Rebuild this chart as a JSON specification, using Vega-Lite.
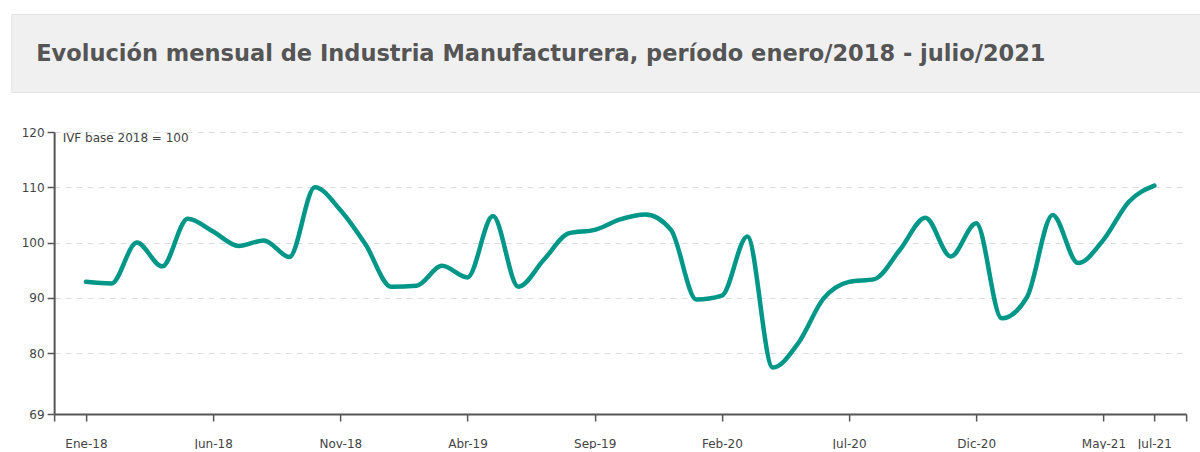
{
  "$schema": "https://vega.github.io/schema/vega-lite/v6.json",
  "background": "white",
  "padding": {"left": 10, "top": 13, "right": 0, "bottom": 0},
  "spacing": 33,
  "center": true,
  "config": {"font": "DejaVu Sans", "view": {"stroke": null}},
  "vconcat": [
    {
      "width": 1218,
      "height": 78,
      "view": {"fill": "#f0f0f0", "stroke": "#e3e3e3"},
      "title": {
        "text": "Evolución mensual de Industria Manufacturera, período enero/2018 - julio/2021",
        "anchor": "start",
        "frame": "group",
        "orient": "top",
        "offset": -69,
        "dx": 25,
        "baseline": "alphabetic",
        "font": "DejaVu Sans",
        "fontSize": 22.5,
        "fontWeight": "bold",
        "color": "#555555"
      },
      "data": {"values": []},
      "mark": "rect",
      "encoding": {}
    },
    {
      "width": 1132,
      "height": 282,
      "data": {
        "values": [
          {"i": 0, "mes": "Ene-18", "ivf": 92.9},
          {"i": 1, "mes": "Feb-18", "ivf": 92.6},
          {"i": 2, "mes": "Mar-18", "ivf": 100.0},
          {"i": 3, "mes": "Abr-18", "ivf": 95.7},
          {"i": 4, "mes": "May-18", "ivf": 104.3},
          {"i": 5, "mes": "Jun-18", "ivf": 102.0},
          {"i": 6, "mes": "Jul-18", "ivf": 99.4},
          {"i": 7, "mes": "Ago-18", "ivf": 100.4},
          {"i": 8, "mes": "Sep-18", "ivf": 97.4},
          {"i": 9, "mes": "Oct-18", "ivf": 110.0},
          {"i": 10, "mes": "Nov-18", "ivf": 105.9},
          {"i": 11, "mes": "Dic-18", "ivf": 99.6},
          {"i": 12, "mes": "Ene-19", "ivf": 92.0},
          {"i": 13, "mes": "Feb-19", "ivf": 92.2},
          {"i": 14, "mes": "Mar-19", "ivf": 95.8},
          {"i": 15, "mes": "Abr-19", "ivf": 93.7},
          {"i": 16, "mes": "May-19", "ivf": 104.8},
          {"i": 17, "mes": "Jun-19", "ivf": 92.0},
          {"i": 18, "mes": "Jul-19", "ivf": 96.9},
          {"i": 19, "mes": "Ago-19", "ivf": 101.7},
          {"i": 20, "mes": "Sep-19", "ivf": 102.3},
          {"i": 21, "mes": "Oct-19", "ivf": 104.2},
          {"i": 22, "mes": "Nov-19", "ivf": 105.1},
          {"i": 23, "mes": "Dic-19", "ivf": 102.3},
          {"i": 24, "mes": "Ene-20", "ivf": 89.7},
          {"i": 25, "mes": "Feb-20", "ivf": 90.4},
          {"i": 26, "mes": "Mar-20", "ivf": 101.1},
          {"i": 27, "mes": "Abr-20", "ivf": 77.4},
          {"i": 28, "mes": "May-20", "ivf": 81.8},
          {"i": 29, "mes": "Jun-20", "ivf": 89.9},
          {"i": 30, "mes": "Jul-20", "ivf": 92.9},
          {"i": 31, "mes": "Ago-20", "ivf": 93.4},
          {"i": 32, "mes": "Sep-20", "ivf": 98.7},
          {"i": 33, "mes": "Oct-20", "ivf": 104.5},
          {"i": 34, "mes": "Nov-20", "ivf": 97.5},
          {"i": 35, "mes": "Dic-20", "ivf": 103.5},
          {"i": 36, "mes": "Ene-21", "ivf": 86.3},
          {"i": 37, "mes": "Feb-21", "ivf": 90.2},
          {"i": 38, "mes": "Mar-21", "ivf": 105.0},
          {"i": 39, "mes": "Abr-21", "ivf": 96.3},
          {"i": 40, "mes": "May-21", "ivf": 100.5},
          {"i": 41, "mes": "Jun-21", "ivf": 107.4},
          {"i": 42, "mes": "Jul-21", "ivf": 110.3}
        ]
      },
      "mark": {
        "type": "line",
        "interpolate": "monotone",
        "color": "#009688",
        "strokeWidth": 4.5,
        "strokeCap": "round",
        "strokeJoin": "round"
      },
      "encoding": {
        "x": {
          "field": "i",
          "type": "quantitative",
          "scale": {"domain": [-1.25, 43.25], "nice": false, "zero": false},
          "axis": {
            "values": [-1.25, 0, 5, 10, 15, 20, 25, 30, 35, 40, 42, 43.25],
            "labelExpr": "datum.value < 0 || datum.value > 42 ? '' : ['Ene','Feb','Mar','Abr','May','Jun','Jul','Ago','Sep','Oct','Nov','Dic'][datum.value % 12] + '-' + (18 + floor(datum.value / 12))",
            "title": " ",
            "titleX": -44,
            "titleY": 0,
            "titleAlign": "left",
            "titleBaseline": "top",
            "titleFontSize": 1,
            "grid": false,
            "labelFont": "DejaVu Sans",
            "labelFontSize": 12,
            "labelColor": "#444444",
            "labelPadding": 17,
            "labelFlush": false,
            "labelOverlap": false,
            "labelBound": false,
            "tickSize": 7,
            "tickColor": "#555555",
            "tickWidth": 1.5,
            "domainColor": "#555555",
            "domainWidth": 2
          }
        },
        "y": {
          "field": "ivf",
          "type": "quantitative",
          "scale": {"domain": [69, 120], "nice": false, "zero": false},
          "axis": {
            "values": [69, 80, 90, 100, 110, 120],
            "title": "IVF base 2018 = 100",
            "titleAngle": 0,
            "titleX": 8,
            "titleY": 9,
            "titleAlign": "left",
            "titleBaseline": "alphabetic",
            "titleFont": "DejaVu Sans",
            "titleFontSize": 12,
            "titleFontWeight": "normal",
            "titleColor": "#444444",
            "labelFont": "DejaVu Sans",
            "labelFontSize": 12,
            "labelColor": "#444444",
            "labelPadding": 3,
            "labelFlush": false,
            "tickSize": 7,
            "tickColor": "#555555",
            "tickWidth": 1.5,
            "domainColor": "#555555",
            "domainWidth": 2,
            "grid": true,
            "gridColor": "#dedede",
            "gridDash": [6, 5],
            "gridWidth": 1
          }
        },
        "tooltip": [
          {"field": "mes", "type": "nominal", "title": "Mes"},
          {"field": "ivf", "type": "quantitative", "title": "IVF"}
        ]
      }
    }
  ]
}
